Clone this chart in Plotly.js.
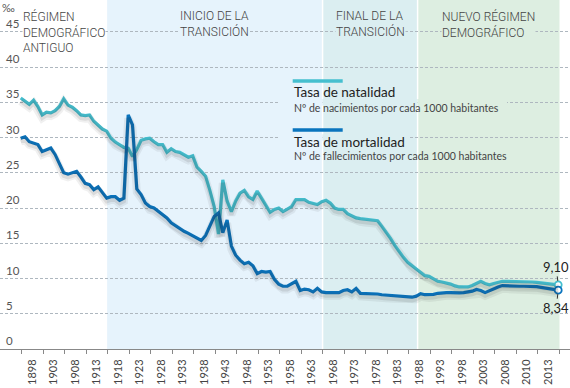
<!DOCTYPE html>
<html><head><meta charset="utf-8">
<script src="https://cdn.plot.ly/plotly-3.0.1.min.js"></script>
<style>html,body{margin:0;padding:0;background:#fff}#chart{width:570px;height:388px}</style>
</head><body><div id="chart"></div>
<script>
// ---------- DATA ----------
const etiquetasAnios = ['1898','1903','1908','1913','1918','1923','1928','1933','1938','1943','1948','1953','1958','1963','1968','1973','1978','1983','1988','1993','1998','2003','2008','2010','2013'];

const natalidad = [
 35.6,35.1,34.7,35.3,34.4,33.2,33.6,33.5,33.8,34.4,
 35.5,34.6,34.3,33.8,33.2,33.1,33.2,32.3,31.7,31.2,
 30.9,29.9,29.35,29.0,28.6,28.5,27.3,28.3,29.6,29.8,
 29.9,29.4,29.0,29.0,27.9,28.4,28.0,27.9,27.5,27.2,
 27.4,25.8,25.2,24.5,22.5,20.2,16.3,24.0,21.0,19.5,
 21.0,22.1,22.5,21.6,21.2,22.4,21.4,20.3,19.4,19.8,
 20.0,19.5,19.8,20.2,21.2,21.2,21.2,20.8,20.6,20.5,
 20.9,21.1,20.7,20.0,19.8,19.8,19.2,18.9,18.6,18.5,
 18.4,18.4,18.3,18.2,17.4,16.6,15.7,14.7,13.8,13.0,
 12.3,11.8,11.3,10.9,10.4,10.3,10.0,9.6,9.5,9.4,
 9.2,8.95,8.8,8.8,8.8,9.0,9.3,9.6,9.3,9.1,
 9.3,9.5,9.6,9.6,9.6,9.6,9.55,9.55,9.5,9.5,
 9.45,9.4,9.3,9.25,9.2,9.10
];

const mortalidad = [
 29.9,30.1,29.4,29.2,29.0,28.0,28.3,28.5,27.6,26.4,
 25.0,24.8,25.0,25.2,24.4,23.5,23.3,22.6,23.0,22.2,
 21.4,21.6,21.6,21.1,21.4,33.2,31.8,22.7,21.9,20.7,
 20.2,20.0,19.5,19.0,18.6,17.9,17.5,17.0,16.7,16.4,
 16.1,15.7,15.4,16.1,17.5,18.8,19.3,16.5,18.3,14.6,
 13.3,12.6,12.1,12.3,11.8,10.7,11.0,10.9,11.0,9.9,
 9.2,8.9,8.9,9.2,9.6,8.3,8.5,8.4,8.1,8.6,
 8.1,8.0,8.0,8.0,8.0,8.3,8.4,8.1,8.6,7.9,
 7.9,7.85,7.8,7.8,7.7,7.65,7.6,7.55,7.5,7.45,
 7.4,7.35,7.5,7.85,7.7,7.7,7.75,7.9,8.0,8.0,
 8.0,7.95,7.95,8.0,8.1,8.2,8.45,8.3,8.0,8.3,
 8.6,8.8,9.0,8.95,8.95,8.9,8.9,8.9,8.9,8.85,
 8.85,8.75,8.65,8.55,8.45,8.34
];

const etapasNombres = ['RÉGIMEN<br>DEMOGRÁFICO<br>ANTIGUO','INICIO DE LA<br>TRANSICIÓN','FINAL DE LA<br>TRANSICIÓN','NUEVO RÉGIMEN<br>DEMOGRÁFICO'];
const etapasInicio = [0, 20.1, 70.2, 92.3];
const etapasFin    = [20.1, 70.2, 92.3, 125.3];

const serieNombres = ['Tasa de natalidad','Tasa de mortalidad'];
const serieSubtitulos = ['Nº de nacimientos por cada 1000 habitantes','Nº de fallecimientos por cada 1000 habitantes'];
const yTicks = [0,5,10,15,20,25,30,35,40,45];

// ---------- STYLE ----------
const FONT = 'Lato, "Open Sans", sans-serif';
const FONT_ETAPA = 'Roboto, Lato, sans-serif';
const colNat = '#45BFCF';
const colMor = '#0A74BE';
const etapasColor = ['#ffffff','#E6F3FC','#DBEEF1','#DDEEE1'];

const W = 570, H = 388, MB = 39;
const PH = H - MB;
const x0px = 20.7, stepPx = 4.3;
const xr = [(0 - x0px)/stepPx, (W - x0px)/stepPx];
const yr = [0, PH/7.05];

const periodo = natalidad.map((_, i) => i);
const n = periodo.length - 1;

const fmt = v => v.toFixed(2).replace('.', ',');
const px = v => v / W;            // paper x from pixel
const py = v => 1 - v / PH;       // paper y from pixel

// shadow traces (shifted axis)
const shadowShift = 0.45;
const traces = [];
[natalidad, mortalidad].forEach(s => {
  traces.push({x: periodo, y: s, yaxis: 'y2', mode: 'lines', hoverinfo: 'skip',
    line: {color: 'rgba(40,40,40,0.07)', width: 8}, showlegend: false});
  traces.push({x: periodo, y: s, yaxis: 'y2', mode: 'lines', hoverinfo: 'skip',
    line: {color: 'rgba(40,40,40,0.10)', width: 4}, showlegend: false});
});
traces.push({x: periodo, y: natalidad, mode: 'lines', name: serieNombres[0],
  line: {color: colNat, width: 3.2}, showlegend: false});
traces.push({x: periodo, y: mortalidad, mode: 'lines', name: serieNombres[1],
  line: {color: colMor, width: 3.2}, showlegend: false});
traces.push({x: [periodo[n]], y: [natalidad[n]], mode: 'markers', showlegend: false,
  marker: {size: 7, color: '#fff', line: {color: colNat, width: 1.8}}});
traces.push({x: [periodo[n]], y: [mortalidad[n]], mode: 'markers', showlegend: false,
  marker: {size: 7, color: '#fff', line: {color: colMor, width: 1.8}}});

// shapes
const shapes = [];
for (let k = 1; k < etapasNombres.length; k++) {
  shapes.push({type: 'rect', xref: 'x', yref: 'paper', x0: etapasInicio[k], x1: etapasFin[k], y0: 0, y1: 1,
    fillcolor: etapasColor[k], line: {width: 0}, layer: 'below'});
}
// covers behind legend texts (break gridlines like the original)
const toIdx = p => (p - x0px) / stepPx;
const covers = [[278, 507, 34.55, 35.45], [278, 410, 29.55, 30.45]];
covers.forEach(c => {
  const a = toIdx(c[0]), b = toIdx(c[1]);
  for (let k = 1; k < etapasNombres.length; k++) {
    const s = Math.max(a, etapasInicio[k]), e = Math.min(b, etapasFin[k]);
    if (e > s) shapes.push({type: 'rect', xref: 'x', yref: 'y', x0: s, x1: e, y0: c[2], y1: c[3],
      fillcolor: etapasColor[k], line: {width: 0}, layer: 'between'});
  }
});
[etapasInicio[2], etapasInicio[3]].forEach(xv => shapes.push({type: 'line', xref: 'x', yref: 'paper',
  x0: xv, x1: xv, y0: 0, y1: 1, line: {color: '#ffffff', width: 1.5}, layer: 'between'}));
// legend bars
[[81, colNat], [130, colMor]].forEach(([yy, c]) => shapes.push({type: 'line', xref: 'paper', yref: 'paper',
  x0: px(292.7), x1: px(342.7), y0: py(yy), y1: py(yy), line: {color: c, width: 3.5}}));

// annotations
const ann = [];
etapasNombres.forEach((t, k) => {
  ann.push({text: t, xref: 'x', yref: 'paper', x: (etapasInicio[k] + etapasFin[k]) / 2, y: 1,
    xanchor: 'center', yanchor: 'top', align: 'left', yshift: -8, showarrow: false,
    bgcolor: etapasColor[k], borderpad: 0,
    font: {family: FONT_ETAPA, size: 12, color: '#444', weight: 300}});
});
[[92, 108], [141.7, 156]].forEach(([yt, ys], k) => {
  ann.push({text: serieNombres[k], xref: 'paper', yref: 'paper', x: px(291.5), y: py(yt),
    xanchor: 'left', yanchor: 'middle', showarrow: false,
    font: {family: FONT, size: 13.5, color: '#222'}});
  ann.push({text: serieSubtitulos[k], xref: 'paper', yref: 'paper', x: px(291.5), y: py(ys),
    xanchor: 'left', yanchor: 'middle', showarrow: false,
    font: {family: FONT, size: 10.5, color: '#444'}});
});
ann.push({text: fmt(natalidad[n]), x: periodo[n], y: natalidad[n], ax: -2, ay: -18, showarrow: true,
  arrowhead: 0, arrowwidth: 1, arrowcolor: '#333', standoff: 4,
  font: {family: FONT, size: 13, color: '#222'}});
ann.push({text: fmt(mortalidad[n]), x: periodo[n], y: mortalidad[n], ax: -2, ay: 18, showarrow: true,
  arrowhead: 0, arrowwidth: 1, arrowcolor: '#333', standoff: 4,
  font: {family: FONT, size: 13, color: '#222'}});
ann.push({text: '‰', xref: 'paper', yref: 'paper', x: 0, y: 1, xanchor: 'left', yanchor: 'top',
  xshift: 1, yshift: 0, showarrow: false, borderpad: 0, font: {family: FONT, size: 11, color: '#555'}});

const tickCenters = etiquetasAnios.map((_, i) => 2.7 + 5 * i);
const tickBounds = etiquetasAnios.concat(['']).map((_, i) => 0.2 + 5 * i);

const layout = {
  width: W, height: H,
  margin: {l: 0, r: 0, t: 0, b: MB, pad: 0},
  paper_bgcolor: '#fff', plot_bgcolor: '#fff',
  font: {family: FONT},
  xaxis: {range: xr, showgrid: false, zeroline: false, showline: true, linecolor: '#888', linewidth: 1,
    tickmode: 'array', tickvals: tickCenters, ticktext: etiquetasAnios, tickangle: -90, ticks: '',
    ticklabelstandoff: 5, tickfont: {family: FONT, size: 11, color: '#444'},
    minor: {tickmode: 'array', tickvals: tickBounds, ticks: 'outside', ticklen: 4, tickcolor: '#888', tickwidth: 1, showgrid: false},
    fixedrange: true},
  yaxis: {range: yr, showgrid: true, gridcolor: '#aeb7bf', griddash: '3px,2px', gridwidth: 1,
    zeroline: false, showline: false, tickmode: 'array', tickvals: yTicks, ticktext: yTicks.map(String),
    ticks: '', ticklabelposition: 'inside', ticklabelshift: -8, ticklabelstandoff: 3,
    tickfont: {family: FONT, size: 11.5, color: '#555'}, fixedrange: true},
  yaxis2: {range: [yr[0] + shadowShift, yr[1] + shadowShift], overlaying: 'y', visible: false, fixedrange: true},
  shapes: shapes,
  annotations: ann,
  showlegend: false
};

Plotly.newPlot('chart', traces, layout, {displayModeBar: false, staticPlot: true});
</script>
</body></html>
